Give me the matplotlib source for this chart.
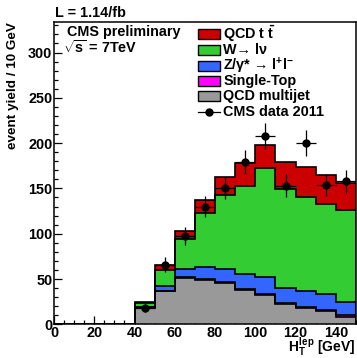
import numpy as np
import matplotlib
matplotlib.use('Agg')
import matplotlib.pyplot as plt
from matplotlib.patches import Rectangle
from matplotlib.lines import Line2D

# H_T^lep binning, 10 GeV bins
bin_edges = np.arange(0, 160, 10)

# per-process yields, bottom to top
qcd_multijet = [0, 0, 0, 0.8, 18.4, 36.4, 51.5, 49.0, 46.0, 38.0, 32.4, 22.0, 17.6, 14.7, 8.5]
single_top = [0, 0, 0, 0, 0.2, 0.3, 0.5, 0.6, 0.7, 1.0, 1.5, 1.2, 1.3, 1.5, 1.8]
z_jets = [0, 0, 0, 0, 0.2, 5.3, 9.0, 13.4, 14.3, 16.0, 18.7, 16.5, 17.9, 17.3, 14.7]
w_jets = [0, 0, 0, 0, 5.2, 18.0, 33.5, 60.0, 81.6, 97.6, 120.4, 109.3, 103.2, 99.5, 101.0]
ttbar = [0, 0, 0, 0, 0.5, 6.0, 8.0, 14.0, 20.4, 25.7, 25.0, 29.7, 34.0, 31.3, 29.5]

# CMS data 2011
data_2011 = [0, 0, 0, 0, 18, 66, 97, 130, 150, 179, 208, 153, 200, 154, 158]

stack_order = [qcd_multijet, single_top, z_jets, w_jets, ttbar]
stack_colors = ['#999999', '#ff00ff', '#3366ff', '#33cc33', '#cc0000']
legend_labels = [r'QCD t $\bar{t}$', 'W\u2192 l\u03bd',
                 'Z/\u03b3* \u2192 l$^{+}$l$^{-}$', 'Single-Top', 'QCD multijet']
legend_colors = ['#cc0000', '#33cc33', '#3366ff', '#ff00ff', '#999999']

plt.rcParams['font.family'] = ['Liberation Sans', 'DejaVu Sans']
plt.rcParams['font.weight'] = 'bold'
plt.rcParams['mathtext.fontset'] = 'custom'
plt.rcParams['mathtext.rm'] = 'Liberation Sans:bold'
plt.rcParams['mathtext.it'] = 'Liberation Sans:bold'
plt.rcParams['mathtext.bf'] = 'Liberation Sans:bold'
plt.rcParams['mathtext.sf'] = 'Liberation Sans:bold'

FS = 10.4
W, H = 357, 358
fig = plt.figure(figsize=(W / 100, H / 100), dpi=100)


def fx(px):
    return px / W


def fy(py):
    return 1 - py / H


ax = fig.add_axes([fx(54), fy(324.3), fx(356) - fx(54), fy(21.7) - fy(324.3)])

# stacked histogram: draw cumulative sums from the top down
cumulative = np.cumsum(np.array(stack_order, dtype=float), axis=0)
for i in range(len(stack_order) - 1, -1, -1):
    ax.stairs(cumulative[i], bin_edges, baseline=0, fill=True, color=stack_colors[i], zorder=2)
for i in range(len(stack_order)):
    ax.stairs(cumulative[i], bin_edges, baseline=0, fill=False, color='black', lw=1.2, zorder=3)

# data points with sqrt(N) errors
data = np.array(data_2011, dtype=float)
centers = 0.5 * (bin_edges[:-1] + bin_edges[1:])
mask = data > 0
ax.errorbar(centers[mask], data[mask], xerr=5, yerr=np.sqrt(data[mask]), fmt='o',
            color='black', ms=5, elinewidth=0.9, capsize=0, zorder=5)

ax.set_xlim(0, 150)
ax.set_ylim(0, 334)
ax.set_xticks(np.arange(0, 150, 20))
ax.set_xticks(np.arange(0, 151, 5), minor=True)
ax.set_yticks(np.arange(0, 301, 50))
ax.set_yticks(np.arange(0, 331, 10), minor=True)
ax.tick_params(which='both', direction='in', top=False, right=False, width=0.9, labelsize=FS)
ax.tick_params(which='major', length=5.8)
ax.tick_params(which='minor', length=3)
ax.tick_params(axis='x', pad=1.5)
ax.tick_params(axis='y', pad=1.2)
for sp in ax.spines.values():
    sp.set_linewidth(1.1)

# axis titles and labels
fig.text(fx(355), fy(352.5), r'$H_{T}^{lep}$ [GeV]', ha='right', va='baseline', fontsize=10)
fig.text(fx(13.5), fy(22), 'event yield / 10 GeV', rotation=90, ha='center', va='top', fontsize=9.7)
fig.text(fx(55), fy(17.3), 'L = 1.14/fb', ha='left', va='baseline', fontsize=FS)
fig.text(fx(67), fy(36), 'CMS preliminary', ha='left', va='baseline', fontsize=FS)
fig.text(fx(63), fy(53.3), r'$\sqrt{s}$ = 7TeV', ha='left', va='baseline', fontsize=FS)

# legend drawn by hand to match the ROOT layout
row_y = [34.3, 50, 65.7, 80.8, 96.4]
for lab, col, yc in zip(legend_labels, legend_colors, row_y):
    fig.patches.append(Rectangle((fx(198.3), fy(yc + 5)), fx(220) - fx(198.3), fy(yc - 5) - fy(yc + 5),
                                 transform=fig.transFigure, facecolor=col, edgecolor='black', lw=1.0))
    fig.text(fx(223.3), fy(yc), lab, ha='left', va='center', fontsize=FS)
fig.lines.append(Line2D([fx(198.3), fx(220)], [fy(112), fy(112)], transform=fig.transFigure,
                        color='black', lw=0.9))
fig.lines.append(Line2D([fx(209)], [fy(112)], transform=fig.transFigure, color='black', marker='o', ms=5))
fig.text(fx(223.3), fy(112), 'CMS data 2011', ha='left', va='center', fontsize=FS)

fig.savefig('out.png', dpi=100)
